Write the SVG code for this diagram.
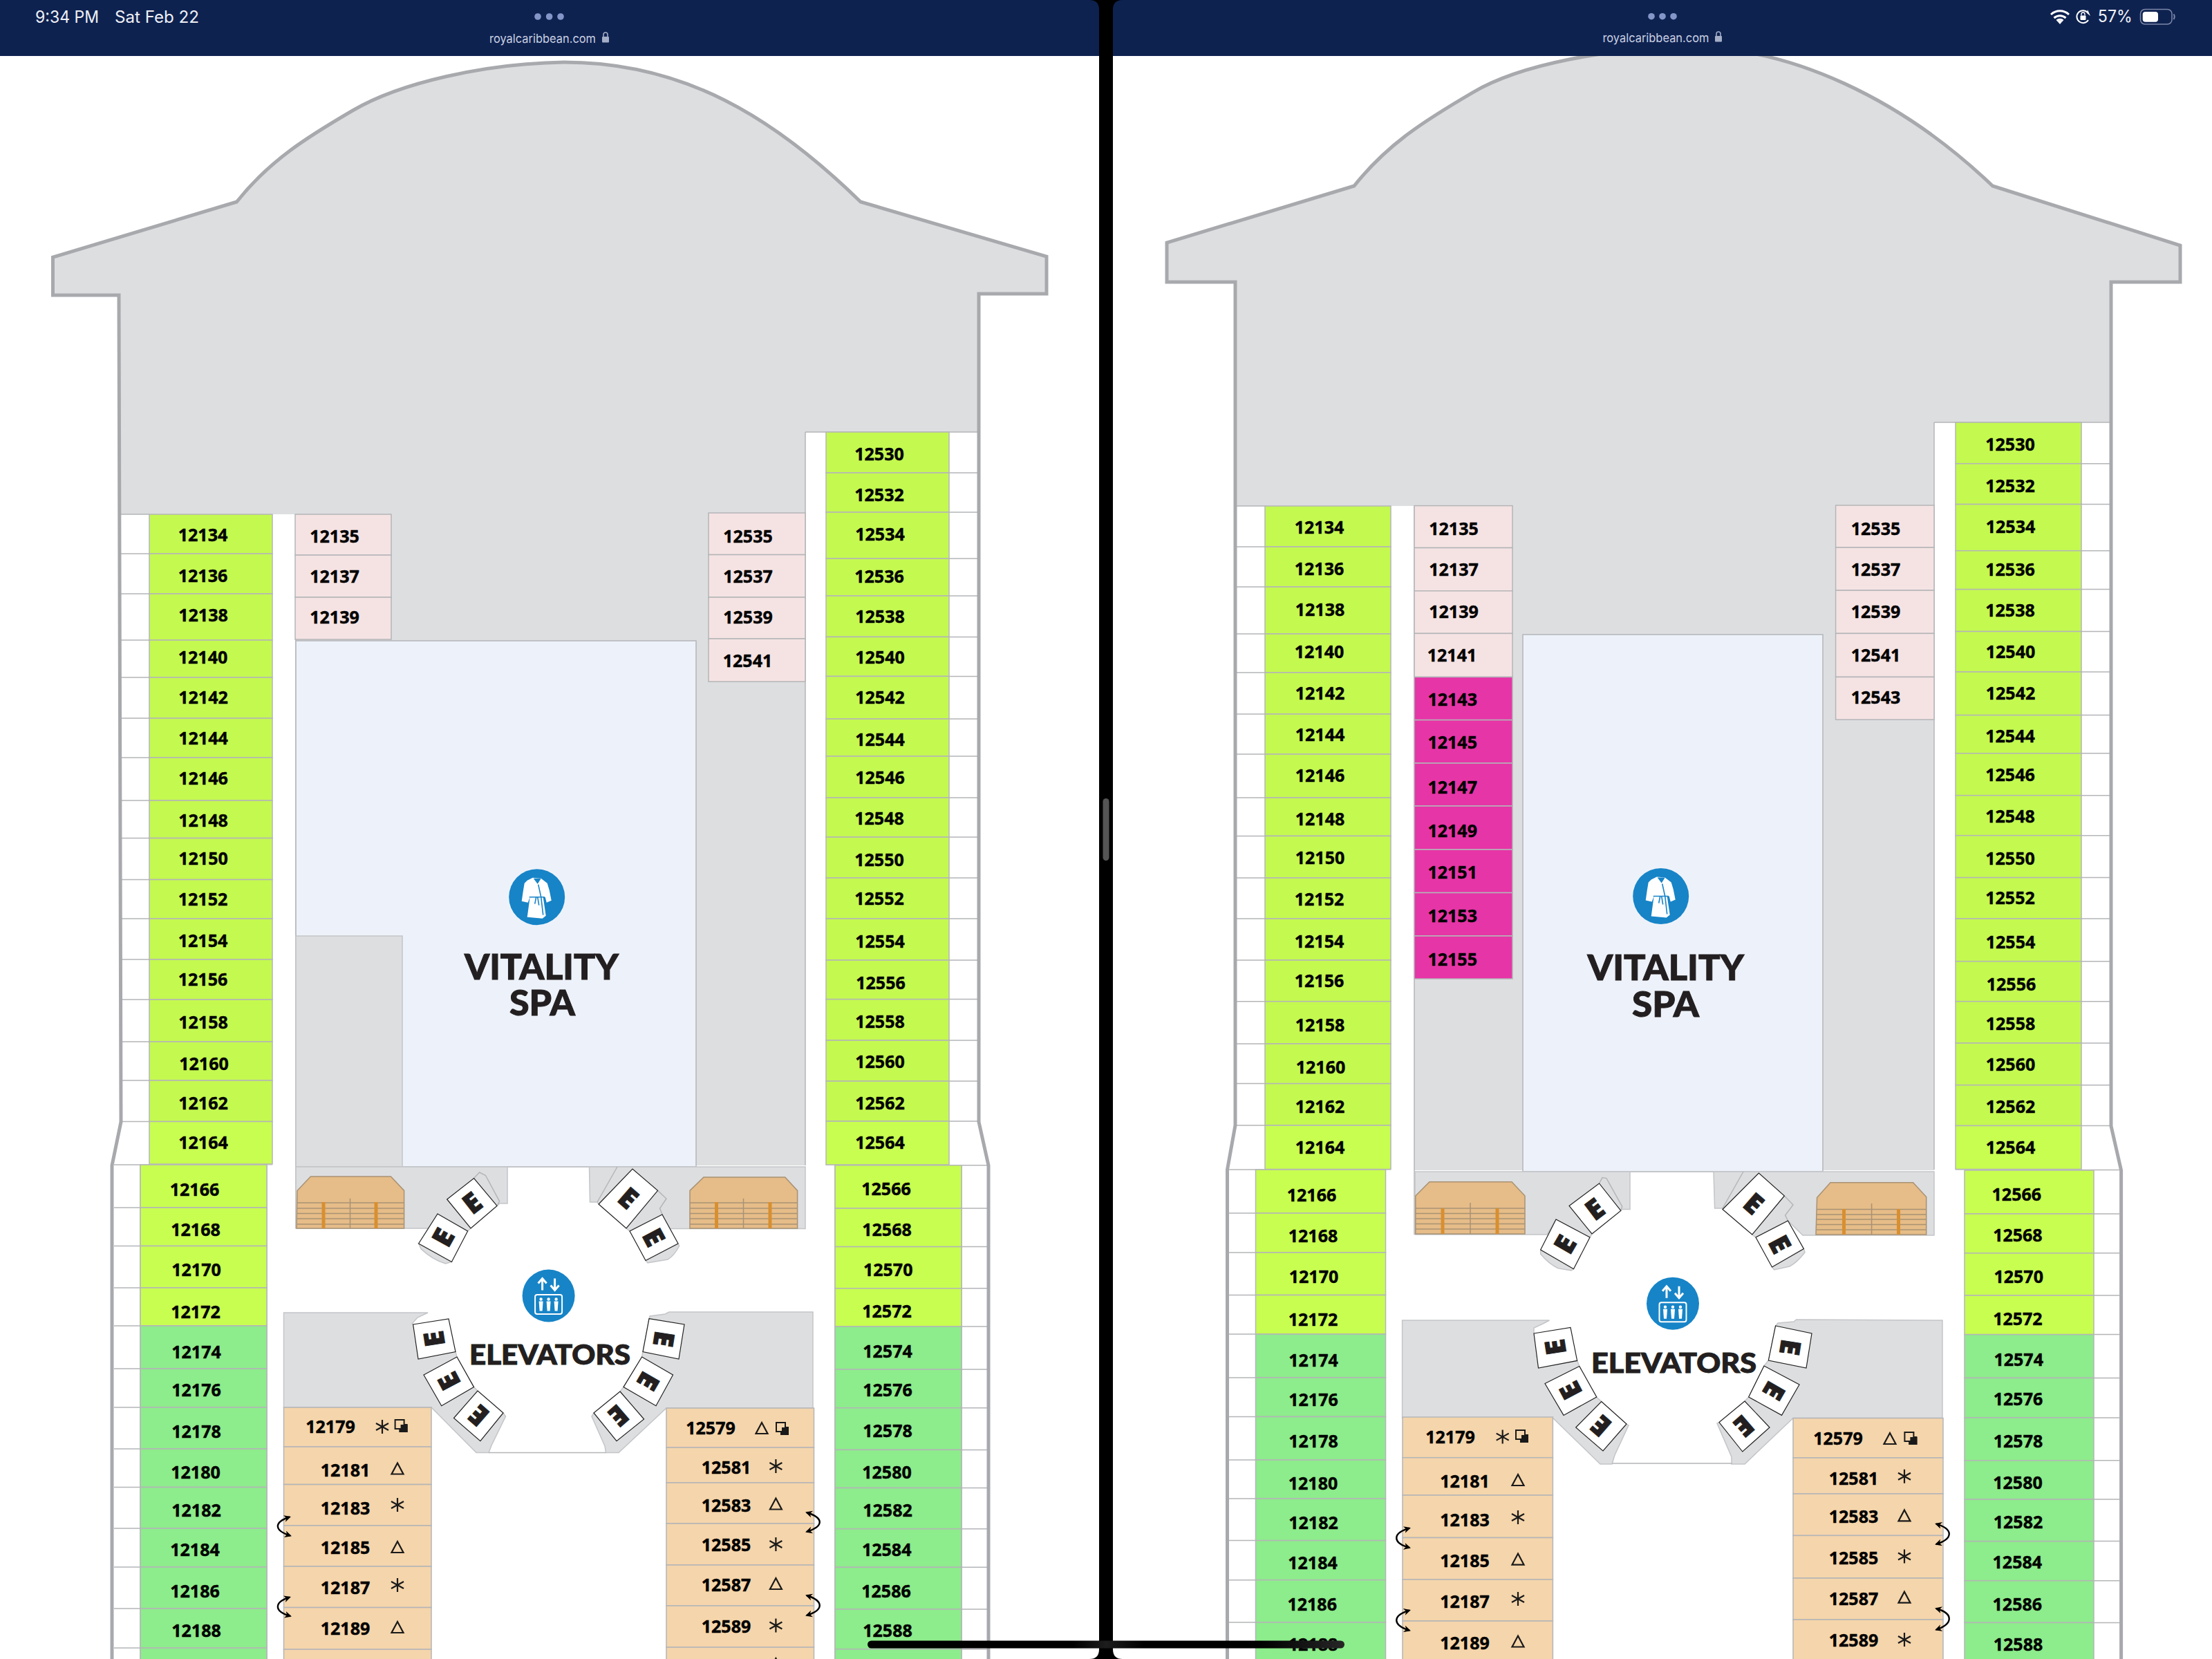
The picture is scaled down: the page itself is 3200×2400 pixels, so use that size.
<svg xmlns="http://www.w3.org/2000/svg" width="3200" height="2400" viewBox="0 0 3200 2400">
<style>
text{font-family:"Open Sans","Liberation Sans",sans-serif}
.n{font-size:25px;font-weight:700;fill:#000;text-anchor:middle;stroke:#000;stroke-width:.45}
.r{stroke:#b4b5b8;stroke-width:1.5}
.a{fill:#c4f950}.b{fill:#c8fe50}.g{fill:#8dec8b}.p{fill:#f5e3e3}.o{fill:#f5d5ab}.m{fill:#e635a6}
.hull{fill:#dddee0}
.hl{fill:none;stroke:#a8a9ad;stroke-width:5;stroke-linejoin:miter}
.ln{fill:none;stroke:#b4b5b8;stroke-width:1.5}
.blk{fill:#dddee0;stroke:#c4c5c8;stroke-width:1.5}
.spa{fill:#edf2fa;stroke:#b4b5b8;stroke-width:1.5}
.tile{fill:#fff;stroke:#222;stroke-width:1.2}
.e{font-size:40px;font-weight:800;fill:#231f20;text-anchor:middle;stroke:#231f20;stroke-width:1}
.st{fill:#e6bc88;stroke:#a89274;stroke-width:1.5}
.stl{fill:none;stroke:#a89274;stroke-width:1.5}
.bar{fill:#d98f30}
.big{font-family:Lato,"Open Sans",sans-serif;font-weight:900;fill:#231f20;stroke:#231f20;stroke-width:1}
.sym{fill:none;stroke:#1a1a1a;stroke-width:2.2;stroke-linejoin:miter}
.cn{fill:none;stroke:#000;stroke-width:2.4;marker-start:url(#ah);marker-end:url(#ah)}
.hd{fill:#0e2250}
.ht{font-family:Inter,Roboto,sans-serif;font-size:24px;fill:#eef0f6}
.ut{font-family:Inter,Roboto,sans-serif;font-size:17.5px;fill:#c9d0e2}
.dot{fill:#8496c8}
</style>
<defs>
<marker id="ah" markerUnits="userSpaceOnUse" markerWidth="12" markerHeight="12" refX="8" refY="5" orient="auto-start-reverse"><path d="M0,0 L10,5 L0,10 L3,5 z" fill="#000"/></marker>
<linearGradient id="hb" x1="1255" x2="1945" y1="0" y2="0" gradientUnits="userSpaceOnUse"><stop offset="0" stop-color="#000"/><stop offset=".43" stop-color="#000"/><stop offset=".5" stop-color="#1d1d1d"/><stop offset=".58" stop-color="#000"/><stop offset=".82" stop-color="#000"/><stop offset="1" stop-color="#262626"/></linearGradient>
<g id="ast"><path class="sym" d="M0,-10 V10 M-9,-5 L9,5 M-9,5 L9,-5"/></g>
<g id="tri"><path class="sym" d="M0,-8 L8.5,8 H-8.5 z"/></g>
<g id="dbl"><rect x="-9" y="-9" width="13" height="13" fill="none" stroke="#1a1a1a" stroke-width="2"/><path d="M-1,-2 H9 V9 H-3 V4 H-1 z" fill="#1a1a1a"/><path d="M4,-3 H9 V9 H-3 V4 H4 z" fill="#1a1a1a"/></g>
<g id="liftIcon"><circle r="38" fill="#1784c7"/><path d="M-9,-8 V-24 M-15,-18 L-9,-25 L-3,-18 M9,-25 V-9 M3,-15 L9,-8 L15,-15" fill="none" stroke="#fff" stroke-width="3"/><rect x="-19.5" y="-1.5" width="39" height="28" rx="3" fill="none" stroke="#fff" stroke-width="2"/><g fill="#fff"><circle cx="-11" cy="5" r="2.2"/><path d="M-14,8 H-8 L-9,22 H-13 z"/><circle cx="0" cy="5" r="2.2"/><path d="M-3,8 H3 L2,22 H-2 z"/><circle cx="11" cy="5" r="2.2"/><path d="M8,8 H14 L13,22 H9 z"/></g></g>
<g id="robeIcon"><circle r="40.5" fill="#1784c7"/><path d="M-6,-28 L-14,-24 L-18,-20 L-20,-8 L-22,6 L-13,8 L-10,0 L-14,29 L8,31 L13,27 L9,0 L12,0 L14,8 L21,5 L18,-10 L15,-20 L6,-27 z" fill="#fff"/><path d="M-5,-27 H6 L1,-19 z" fill="#1784c7"/><path d="M-11,0 H11 M-1,0 L-3,10 M1,0 L3,12 M2,-18 L6,0 L9,26" fill="none" stroke="#1784c7" stroke-width="1.6"/></g>
</defs>
<rect width="3200" height="2400" fill="#fff"/>

<g id="left-hull">
<path class="hull" d="M76.5,372 L342.5,292 C390,232 445,198 510,160 C578,120 700,92 816,90 C990,90 1120,170 1245,292 L1514,371 V425 H1416 V1623 L1430,1686 H162 L175,1623 L172,427 H76.5 Z"/>
<path fill="#fff" d="M175,744 H216 V1686 H162 L175,1623 Z M394,744 H428 V1690 H394 Z M1165,625 H1195 V1690 H1165 Z M1373,625 H1416 V1623 L1430,1686 H1373 Z"/>
<path class="ln" d="M175,744 H216 M1165,625 H1416 M1165,625 V1686 M428,744 V1777 M175,801 H216 M175,859 H216 M175,926 H216 M175,980 H216 M175,1039 H216 M175,1096 H216 M175,1158 H216 M175,1212.5 H216 M175,1272.5 H216 M175,1329 H216 M175,1388 H216 M175,1446 H216 M175,1507 H216 M175,1563 H216 M175,1622.5 H216 M165,1685 H216 M1373,684 H1416 M1373,741 H1416 M1373,808 H1416 M1373,862 H1416 M1373,921.4 H1416 M1373,978.4 H1416 M1373,1040 H1416 M1373,1094 H1416 M1373,1154 H1416 M1373,1211 H1416 M1373,1270 H1416 M1373,1329 H1416 M1373,1389 H1416 M1373,1445.6 H1416 M1373,1505 H1416 M1373,1564 H1416 M1373,1622 H1416 M1373,1685.7 H1428 M165,1747 H203 M165,1802.5 H203 M165,1863 H203 M165,1918 H203 M165,1980 H203 M165,2036 H203 M165,2096 H203 M165,2151.5 H203 M165,2211 H203 M165,2267 H203 M165,2327 H203 M165,2384 H203 M1391,1748 H1428 M1391,1803.6 H1428 M1391,1863.8 H1428 M1391,1919 H1428 M1391,1981 H1428 M1391,2036.7 H1428 M1391,2097.4 H1428 M1391,2152.5 H1428 M1391,2211.7 H1428 M1391,2267.3 H1428 M1391,2328 H1428 M1391,2385.7 H1428 M203,1685 V2400 M386,1685 V2400 M1208,1685 V2400 M1391,1685 V2400"/>
<path class="hl" d="M162,2400 V1686 L175,1623 L172,427 H76.5 V372 L342.5,292 C390,232 445,198 510,160 C578,120 700,92 816,90 C990,90 1120,170 1245,292 L1514,371 V425 H1416 V1623 L1430,1686 V2400"/>
</g>

<g id="right-hull">
<path class="hull" d="M1688,351 L1959,269 C2007.6,207.6 2064,172.7 2130.5,133.8 C2200,92.9 2325,70 2443.9,68 C2590,68 2750,142 2882.6,269 L3154,355 V408 H3054 V1629 L3068.6,1693 H1775.5 L1787,1628 V408 H1688 Z"/>
<path fill="#fff" d="M1787,732 H1830 V1693 H1775.5 L1787,1628 Z M2012,732 H2046 V1695 H2012 Z M2798,611 H2829 V1695 H2798 Z M3011,611 H3054 V1629 L3068.6,1693 H3011 Z"/>
<path class="ln" d="M1787,732 H1830 M2798,611 H3054 M2798,611 V1692 M2046,732 V1786 M1787,791 H1830 M1787,849 H1830 M1787,917 H1830 M1787,973 H1830 M1787,1033 H1830 M1787,1091 H1830 M1787,1154 H1830 M1787,1209.4 H1830 M1787,1270 H1830 M1787,1329 H1830 M1787,1389 H1830 M1787,1448.7 H1830 M1787,1510 H1830 M1787,1567.6 H1830 M1787,1628 H1830 M1778,1692 H1830 M3011,670.7 H3054 M3011,729.5 H3054 M3011,796.7 H3054 M3011,852.6 H3054 M3011,913.5 H3054 M3011,972 H3054 M3011,1034.6 H3054 M3011,1089.8 H3054 M3011,1150.7 H3054 M3011,1208.7 H3054 M3011,1269.6 H3054 M3011,1329 H3054 M3011,1390.7 H3054 M3011,1448.7 H3054 M3011,1509 H3054 M3011,1569.7 H3054 M3011,1628.5 H3054 M3011,1692.5 H3067 M1778,1755 H1816.5 M1778,1812 H1816.5 M1778,1873.5 H1816.5 M1778,1930 H1816.5 M1778,1993 H1816.5 M1778,2049.5 H1816.5 M1778,2112 H1816.5 M1778,2168 H1816.5 M1778,2228.6 H1816.5 M1778,2285.7 H1816.5 M1778,2347 H1816.5 M3029,1756 H3066 M3029,1812.8 H3066 M3029,1874 H3066 M3029,1930.6 H3066 M3029,1993.4 H3066 M3029,2051 H3066 M3029,2112.8 H3066 M3029,2169 H3066 M3029,2229.6 H3066 M3029,2286.7 H3066 M3029,2347.4 H3066"/>
<path class="hl" d="M1775.5,2400 V1692 L1787,1628 V408 H1688 V351 L1959,269 C2007.6,207.6 2064,172.7 2130.5,133.8 C2200,92.9 2325,70 2443.9,68 C2590,68 2750,142 2882.6,269 L3154,355 V408 H3054 V1629 L3068.6,1693 V2400"/>
</g>

<g id="left-vitality-spa">
<rect class="spa" x="428" y="927" width="579" height="761"/>
<rect class="blk" x="428" y="1354" width="154" height="334" stroke="#a8a9ad"/>
<use href="#robeIcon" x="776.7" y="1297.7"/>
<text class="big" x="672" y="1417" font-size="51" textLength="223" lengthAdjust="spacingAndGlyphs">VITALITY</text>
<text class="big" x="737" y="1469" font-size="51" textLength="95" lengthAdjust="spacingAndGlyphs">SPA</text>
</g>
<g id="right-vitality-spa">
<rect class="spa" x="2203" y="918" width="434" height="777"/>
<use href="#robeIcon" x="2402.7" y="1296.5"/>
<text class="big" x="2296.5" y="1418" font-size="51" textLength="226.5" lengthAdjust="spacingAndGlyphs">VITALITY</text>
<text class="big" x="2361" y="1471" font-size="51" textLength="97" lengthAdjust="spacingAndGlyphs">SPA</text>
</g>

<g id="left-lobby">
<path class="blk" d="M428,1688 H734 V1741 H723 L719,1744.4 L681,1777 L676.6,1781 L633,1756 L622,1777 H428 Z"/>
<path class="blk" d="M852.5,1688 H1165 V1777.5 H968 L958,1757 L911,1781 L906,1777 L866,1742 L864,1739 H853.5 Z"/>
<path class="blk" d="M410.5,1899 H619 L604,1906 L596,1915 L597.6,1916 L659,1955.6 L661,1963 L685.5,2006.6 L691,2012 L728,2044 L731.5,2049 L711,2091 L707,2101.5 H689 L624,2036 H410.5 Z"/>
<path class="blk" d="M1176,1898 H968 L962,1901 L940,1904 L939,1908 L930,1955.6 L928.6,1963 L902,2006.6 L897,2013 L859,2044 L856,2049 L875,2092 L876.5,2101.5 H895 L964,2037 H1176 Z"/>
<path class="blk" d="M605.6,1799 L609,1806.6 Q625,1822 644.5,1828 L653.4,1825.5 Z"/>
<path class="blk" d="M981,1799 L982.7,1802.5 Q975,1817 966,1822 L937,1827 L934,1823.5 Z"/>
<path class="ln" d="M685.6,1704.6 L693.6,1696 L702.5,1700.5 L722.6,1737.8 L719,1744.4 M893,1688 L864,1739 M951.5,1722.4 L964,1734 L954.6,1748 L958,1757 M707,2101.5 H876.5"/>
</g>
<g id="right-lobby">
<path class="blk" d="M2047,1695 H2358 V1749.5 H2346 L2303,1785 L2300,1790 L2251,1764 L2238,1786 H2047 Z"/>
<path class="blk" d="M2479,1695 H2798 V1787 H2608 L2586.5,1766 L2540,1790 L2534.8,1786 L2492,1749.5 L2492,1748 H2480.6 Z"/>
<path class="blk" d="M2028.6,1910 H2241.5 L2232,1915 L2219,1921 L2219,1929 L2281.6,1968 L2284.8,1976.5 L2309.7,2021 L2316.7,2027.6 L2353,2060 L2356,2062 L2336,2105 L2332,2118 H2315 L2246.6,2051.5 H2028.6 Z"/>
<path class="blk" d="M2810,1910 L2598.6,1909 L2595,1912 L2572,1914 L2568.6,1918 L2558.4,1968 L2552,1976 L2529.7,2021 L2524,2027 L2487,2057.6 L2484,2059 L2505,2107.6 L2505,2118 H2524 L2594,2051.5 H2810 Z"/>
<path class="blk" d="M2228.7,1808 L2228.7,1814 Q2240,1828 2254,1834.7 L2273,1838 L2276.5,1835.7 Z"/>
<path class="blk" d="M2609.4,1806.6 L2611,1811.7 Q2600,1826 2589,1832 L2566.7,1837 L2563.5,1833 Z"/>
<path class="ln" d="M2313.5,1712 L2318,1703.6 L2324,1704.6 L2346.7,1745.4 L2344.8,1751.5 M2522,1695 L2492,1748 M2581.4,1730 L2594,1743 L2582.6,1758 L2586.5,1766 M2332,2117 H2506"/>
</g>

<g id="left-stairs-1"><path class="st" d="M430,1722.4 L449.4,1702 H565.4 L584.6,1722.4 V1777 H429 Z"/><path class="stl" d="M430,1740 H584.6 M430,1748 H584.6 M430,1755.6 H584.6 M430,1763 H584.6 M430,1771 H584.6 M506.5,1733.7 V1777"/><rect class="bar" x="465.5" y="1739" width="5" height="38"/><rect class="bar" x="541.5" y="1739" width="5" height="38"/></g>
<g id="left-stairs-2"><path class="st" d="M998,1722.4 L1018,1703 H1135.7 L1153.6,1722.4 V1777 H998 Z"/><path class="stl" d="M998,1740 H1153.6 M998,1748 H1153.6 M998,1755.6 H1153.6 M998,1763 H1153.6 M998,1771 H1153.6 M1075.5,1733.7 V1777"/><rect class="bar" x="1034" y="1739" width="5" height="38"/><rect class="bar" x="1111.5" y="1739" width="5" height="38"/></g>
<g id="right-stairs-1"><path class="st" d="M2047.8,1730 L2068,1709.7 H2187 L2206,1730 V1785 H2047.8 Z"/><path class="stl" d="M2047.8,1748 H2206 M2047.8,1755.5 H2206 M2047.8,1763 H2206 M2047.8,1770.5 H2206 M2047.8,1778 H2206 M2127,1740 V1785"/><rect class="bar" x="2084.5" y="1748" width="5" height="37"/><rect class="bar" x="2163.5" y="1748" width="5" height="37"/></g>
<g id="right-stairs-2"><path class="st" d="M2628.6,1732.6 L2648,1710.7 H2767.6 L2786.7,1731.6 V1786 H2627 Z"/><path class="stl" d="M2628,1749.5 H2786.7 M2628,1757 H2786.7 M2628,1764 H2786.7 M2628,1771.5 H2786.7 M2628,1779 H2786.7 M2707.6,1741 V1786"/><rect class="bar" x="2665" y="1749" width="5" height="37"/><rect class="bar" x="2744" y="1749" width="5" height="37"/></g>

<g id="left-elevator-1"><polygon class="tile" points="646.7,1735 685.6,1704.6 719,1744.4 681,1777"/><text class="e" transform="translate(683,1740) rotate(-38)" y="14.5">E</text></g>
<g id="left-elevator-2"><polygon class="tile" points="605.6,1799 653.4,1825.5 676.6,1781 633,1756"/><text class="e" transform="translate(641,1790) rotate(-61)" y="14.5">E</text></g>
<g id="left-elevator-3"><polygon class="tile" points="597.6,1916 649,1908 659,1955.6 605,1966"/><text class="e" transform="translate(628,1937) rotate(-99)" y="14.5">E</text></g>
<g id="left-elevator-4"><polygon class="tile" points="613,1989 661,1963 685.5,2006.6 638.7,2033.7"/><text class="e" transform="translate(649.5,1998) rotate(-118)" y="14.5">E</text></g>
<g id="left-elevator-5"><polygon class="tile" points="656.5,2051.5 691,2012 728,2044 694.9,2084.7"/><text class="e" transform="translate(692.5,2048) rotate(-139)" y="14.5">E</text></g>
<g id="left-elevator-6"><polygon class="tile" points="866,1742 915,1691 951.5,1722.4 906,1777"/><text class="e" transform="translate(909,1733) rotate(41)" y="14.5">E</text></g>
<g id="left-elevator-7"><polygon class="tile" points="911,1781 958,1757 981,1799 934,1823.5"/><text class="e" transform="translate(946,1790) rotate(62)" y="14.5">E</text></g>
<g id="left-elevator-8"><polygon class="tile" points="939,1907.6 990,1916 982,1966 930,1955.6"/><text class="e" transform="translate(960.5,1937) rotate(99)" y="14.5">E</text></g>
<g id="left-elevator-9"><polygon class="tile" points="928.6,1963 973.5,1989 949,2033.7 902,2006.6"/><text class="e" transform="translate(938,1998) rotate(120)" y="14.5">E</text></g>
<g id="left-elevator-10"><polygon class="tile" points="897,2013 931.6,2053 892,2084.7 859,2044"/><text class="e" transform="translate(895,2048) rotate(139)" y="14.5">E</text></g>

<g id="right-elevator-1"><polygon class="tile" points="2270,1744.4 2313.5,1712 2344.8,1751.5 2303,1785"/><text class="e" transform="translate(2307,1749) rotate(-37)" y="14.5">E</text></g>
<g id="right-elevator-2"><polygon class="tile" points="2251,1764 2300,1790 2276.5,1835.7 2228.7,1808"/><text class="e" transform="translate(2264,1800) rotate(-60)" y="14.5">E</text></g>
<g id="right-elevator-3"><polygon class="tile" points="2219,1929 2272,1920.4 2281.6,1968.4 2225.5,1979"/><text class="e" transform="translate(2250,1949) rotate(-99)" y="14.5">E</text></g>
<g id="right-elevator-4"><polygon class="tile" points="2235,2001.5 2284.8,1976.5 2309.7,2021 2262,2047.4"/><text class="e" transform="translate(2272,2011.6) rotate(-118)" y="14.5">E</text></g>
<g id="right-elevator-5"><polygon class="tile" points="2279.7,2065 2316.7,2027.6 2353,2060 2319,2099"/><text class="e" transform="translate(2316,2063) rotate(-139)" y="14.5">E</text></g>
<g id="right-elevator-6"><polygon class="tile" points="2492,1749.5 2544.4,1697 2581.4,1730 2534.8,1786"/><text class="e" transform="translate(2537,1741) rotate(41)" y="14.5">E</text></g>
<g id="right-elevator-7"><polygon class="tile" points="2540,1790 2586.5,1766 2609.4,1806.6 2563.5,1833"/><text class="e" transform="translate(2575,1800) rotate(62)" y="14.5">E</text></g>
<g id="right-elevator-8"><polygon class="tile" points="2568.6,1918 2621,1929 2613,1979 2558.4,1968"/><text class="e" transform="translate(2590,1949) rotate(99)" y="14.5">E</text></g>
<g id="right-elevator-9"><polygon class="tile" points="2552,1976 2603,2003 2577.5,2047.4 2529.7,2021"/><text class="e" transform="translate(2566.6,2012) rotate(120)" y="14.5">E</text></g>
<g id="right-elevator-10"><polygon class="tile" points="2524,2027 2560,2065 2520.8,2100 2487,2057.6"/><text class="e" transform="translate(2523,2063) rotate(139)" y="14.5">E</text></g>

<g id="left-elevators"><use href="#liftIcon" x="793.6" y="1874.5"/><text class="big" x="679" y="1973.5" font-size="39" textLength="233" lengthAdjust="spacingAndGlyphs">ELEVATORS</text></g>
<g id="right-elevators"><use href="#liftIcon" x="2420" y="1885.7"/><text class="big" x="2302" y="1986" font-size="40" textLength="239" lengthAdjust="spacingAndGlyphs">ELEVATORS</text></g>

<g id="L12134"><rect class="r a" x="216" y="744" width="178" height="57"/><text class="n" x="293.5" y="783">12134</text></g>
<g id="L12136"><rect class="r a" x="216" y="801" width="178" height="58"/><text class="n" x="293.5" y="842">12136</text></g>
<g id="L12138"><rect class="r a" x="216" y="859" width="178" height="67"/><text class="n" x="294" y="899">12138</text></g>
<g id="L12140"><rect class="r a" x="216" y="926" width="178" height="54"/><text class="n" x="293.5" y="960">12140</text></g>
<g id="L12142"><rect class="r a" x="216" y="980" width="178" height="59"/><text class="n" x="294" y="1018">12142</text></g>
<g id="L12144"><rect class="r a" x="216" y="1039" width="178" height="57"/><text class="n" x="294" y="1076.5">12144</text></g>
<g id="L12146"><rect class="r a" x="216" y="1096" width="178" height="62"/><text class="n" x="294" y="1135">12146</text></g>
<g id="L12148"><rect class="r a" x="216" y="1158" width="178" height="54.5"/><text class="n" x="294" y="1196">12148</text></g>
<g id="L12150"><rect class="r a" x="216" y="1212.5" width="178" height="60"/><text class="n" x="294" y="1251">12150</text></g>
<g id="L12152"><rect class="r a" x="216" y="1272.5" width="178" height="56.5"/><text class="n" x="293.5" y="1310">12152</text></g>
<g id="L12154"><rect class="r a" x="216" y="1329" width="178" height="59"/><text class="n" x="293.5" y="1370">12154</text></g>
<g id="L12156"><rect class="r a" x="216" y="1388" width="178" height="58"/><text class="n" x="293.5" y="1426">12156</text></g>
<g id="L12158"><rect class="r a" x="216" y="1446" width="178" height="61"/><text class="n" x="294" y="1488">12158</text></g>
<g id="L12160"><rect class="r a" x="216" y="1507" width="178" height="56"/><text class="n" x="295" y="1548">12160</text></g>
<g id="L12162"><rect class="r a" x="216" y="1563" width="178" height="59.5"/><text class="n" x="294" y="1605">12162</text></g>
<g id="L12164"><rect class="r b" x="216" y="1622.5" width="178" height="61.5"/><text class="n" x="294" y="1662">12164</text></g>
<g id="L12166"><rect class="r b" x="203" y="1685" width="183" height="62"/><text class="n" x="281.5" y="1730">12166</text></g>
<g id="L12168"><rect class="r b" x="203" y="1747" width="183" height="55.5"/><text class="n" x="283" y="1788">12168</text></g>
<g id="L12170"><rect class="r b" x="203" y="1802.5" width="183" height="60.5"/><text class="n" x="284" y="1846">12170</text></g>
<g id="L12172"><rect class="r b" x="203" y="1863" width="183" height="55"/><text class="n" x="283" y="1907">12172</text></g>
<g id="L12174"><rect class="r g" x="203" y="1918" width="183" height="62"/><text class="n" x="284" y="1965">12174</text></g>
<g id="L12176"><rect class="r g" x="203" y="1980" width="183" height="56"/><text class="n" x="284" y="2020">12176</text></g>
<g id="L12178"><rect class="r g" x="203" y="2036" width="183" height="60"/><text class="n" x="284" y="2079.5">12178</text></g>
<g id="L12180"><rect class="r g" x="203" y="2096" width="183" height="55.5"/><text class="n" x="283" y="2139">12180</text></g>
<g id="L12182"><rect class="r g" x="203" y="2151.5" width="183" height="59.5"/><text class="n" x="284" y="2194">12182</text></g>
<g id="L12184"><rect class="r g" x="203" y="2211" width="183" height="56"/><text class="n" x="282" y="2251">12184</text></g>
<g id="L12186"><rect class="r g" x="203" y="2267" width="183" height="60"/><text class="n" x="282" y="2311">12186</text></g>
<g id="L12188"><rect class="r g" x="203" y="2327" width="183" height="57"/><text class="n" x="284" y="2368">12188</text></g>
<g id="L-col-end"><rect class="r g" x="203" y="2384" width="183" height="20"/></g>

<g id="L12135"><rect class="r p" x="427" y="744" width="139" height="59"/><text class="n" x="484" y="785">12135</text></g>
<g id="L12137"><rect class="r p" x="427" y="803" width="139" height="61"/><text class="n" x="484" y="843">12137</text></g>
<g id="L12139"><rect class="r p" x="427" y="864" width="139" height="61"/><text class="n" x="484" y="902">12139</text></g>

<g id="L12535"><rect class="r p" x="1025" y="742" width="140" height="60.5"/><text class="n" x="1082" y="784.5">12535</text></g>
<g id="L12537"><rect class="r p" x="1025" y="802.5" width="140" height="61.5"/><text class="n" x="1082" y="843">12537</text></g>
<g id="L12539"><rect class="r p" x="1025" y="864" width="140" height="60"/><text class="n" x="1082" y="902">12539</text></g>
<g id="L12541"><rect class="r p" x="1025" y="924" width="140" height="62"/><text class="n" x="1081.5" y="965">12541</text></g>

<g id="L12530"><rect class="r a" x="1195" y="625" width="178" height="59"/><text class="n" x="1272" y="666">12530</text></g>
<g id="L12532"><rect class="r a" x="1195" y="684" width="178" height="57"/><text class="n" x="1272" y="725">12532</text></g>
<g id="L12534"><rect class="r a" x="1195" y="741" width="178" height="67"/><text class="n" x="1273" y="782">12534</text></g>
<g id="L12536"><rect class="r a" x="1195" y="808" width="178" height="54"/><text class="n" x="1272" y="843">12536</text></g>
<g id="L12538"><rect class="r a" x="1195" y="862" width="178" height="59.4"/><text class="n" x="1273" y="901">12538</text></g>
<g id="L12540"><rect class="r a" x="1195" y="921.4" width="178" height="57"/><text class="n" x="1273" y="960">12540</text></g>
<g id="L12542"><rect class="r a" x="1195" y="978.4" width="178" height="61.6"/><text class="n" x="1273" y="1018">12542</text></g>
<g id="L12544"><rect class="r a" x="1195" y="1040" width="178" height="54"/><text class="n" x="1273" y="1079">12544</text></g>
<g id="L12546"><rect class="r a" x="1195" y="1094" width="178" height="60"/><text class="n" x="1273" y="1134">12546</text></g>
<g id="L12548"><rect class="r a" x="1195" y="1154" width="178" height="57"/><text class="n" x="1272" y="1193">12548</text></g>
<g id="L12550"><rect class="r a" x="1195" y="1211" width="178" height="59"/><text class="n" x="1272" y="1253">12550</text></g>
<g id="L12552"><rect class="r a" x="1195" y="1270" width="178" height="59"/><text class="n" x="1272" y="1309">12552</text></g>
<g id="L12554"><rect class="r a" x="1195" y="1329" width="178" height="60"/><text class="n" x="1273" y="1371">12554</text></g>
<g id="L12556"><rect class="r a" x="1195" y="1389" width="178" height="56.6"/><text class="n" x="1274" y="1431">12556</text></g>
<g id="L12558"><rect class="r a" x="1195" y="1445.6" width="178" height="59.4"/><text class="n" x="1273" y="1487">12558</text></g>
<g id="L12560"><rect class="r a" x="1195" y="1505" width="178" height="59"/><text class="n" x="1273" y="1545">12560</text></g>
<g id="L12562"><rect class="r a" x="1195" y="1564" width="178" height="58"/><text class="n" x="1273" y="1605">12562</text></g>
<g id="L12564"><rect class="r b" x="1195" y="1622" width="178" height="63"/><text class="n" x="1273" y="1662">12564</text></g>
<g id="L12566"><rect class="r b" x="1208" y="1685.7" width="183" height="62.3"/><text class="n" x="1282" y="1729.4">12566</text></g>
<g id="L12568"><rect class="r b" x="1208" y="1748" width="183" height="55.6"/><text class="n" x="1283" y="1787.6">12568</text></g>
<g id="L12570"><rect class="r b" x="1208" y="1803.6" width="183" height="60.2"/><text class="n" x="1284.7" y="1846">12570</text></g>
<g id="L12572"><rect class="r b" x="1208" y="1863.8" width="183" height="55.2"/><text class="n" x="1283" y="1906.4">12572</text></g>
<g id="L12574"><rect class="r g" x="1208" y="1919" width="183" height="62"/><text class="n" x="1284" y="1964">12574</text></g>
<g id="L12576"><rect class="r g" x="1208" y="1981" width="183" height="55.7"/><text class="n" x="1284" y="2020">12576</text></g>
<g id="L12578"><rect class="r g" x="1208" y="2036.7" width="183" height="60.7"/><text class="n" x="1284" y="2079.4">12578</text></g>
<g id="L12580"><rect class="r g" x="1208" y="2097.4" width="183" height="55.1"/><text class="n" x="1283" y="2138.6">12580</text></g>
<g id="L12582"><rect class="r g" x="1208" y="2152.5" width="183" height="59.2"/><text class="n" x="1284" y="2194">12582</text></g>
<g id="L12584"><rect class="r g" x="1208" y="2211.7" width="183" height="55.6"/><text class="n" x="1282.7" y="2251.3">12584</text></g>
<g id="L12586"><rect class="r g" x="1208" y="2267.3" width="183" height="60.7"/><text class="n" x="1282" y="2311">12586</text></g>
<g id="L12588"><rect class="r g" x="1208" y="2328" width="183" height="57.7"/><text class="n" x="1284" y="2367.7">12588</text></g>
<g id="L-col-end-2"><rect class="r g" x="1208" y="2385.7" width="183" height="20"/></g>

<g id="L12179"><rect class="r o" x="410.5" y="2036" width="213.5" height="57"/><text class="n" x="478" y="2073">12179</text><use href="#ast" x="553" y="2064"/><use href="#dbl" x="580.6" y="2063"/></g>
<g id="L12181"><rect class="r o" x="410.5" y="2093" width="213.5" height="54.5"/><text class="n" x="499.5" y="2136">12181</text><use href="#tri" x="575" y="2124.5"/></g>
<g id="L12183"><rect class="r o" x="410.5" y="2147.5" width="213.5" height="59.5"/><text class="n" x="499.5" y="2190.6">12183</text><use href="#ast" x="575" y="2177"/></g>
<g id="L12185"><rect class="r o" x="410.5" y="2207" width="213.5" height="59"/><text class="n" x="499.5" y="2248">12185</text><use href="#tri" x="575" y="2238"/></g>
<g id="L12187"><rect class="r o" x="410.5" y="2266" width="213.5" height="59.5"/><text class="n" x="499.5" y="2306">12187</text><use href="#ast" x="575" y="2293"/></g>
<g id="L12189"><rect class="r o" x="410.5" y="2325.5" width="213.5" height="60.5"/><text class="n" x="499.5" y="2365">12189</text><use href="#tri" x="575" y="2354"/></g>
<g id="L-orange-end"><rect class="r o" x="410.5" y="2386" width="213.5" height="20"/></g>

<g id="L12579"><rect class="r o" x="964" y="2037" width="213.5" height="57"/><text class="n" x="1028" y="2075">12579</text><use href="#tri" x="1102" y="2066"/><use href="#dbl" x="1132" y="2067"/></g>
<g id="L12581"><rect class="r o" x="964" y="2094" width="213.5" height="51"/><text class="n" x="1050.5" y="2132">12581</text><use href="#ast" x="1122.4" y="2121"/></g>
<g id="L12583"><rect class="r o" x="964" y="2145" width="213.5" height="59"/><text class="n" x="1050.5" y="2186.5">12583</text><use href="#tri" x="1122.4" y="2175.5"/></g>
<g id="L12585"><rect class="r o" x="964" y="2204" width="213.5" height="60"/><text class="n" x="1050.5" y="2244">12585</text><use href="#ast" x="1122.4" y="2234"/></g>
<g id="L12587"><rect class="r o" x="964" y="2264" width="213.5" height="59"/><text class="n" x="1050.5" y="2302">12587</text><use href="#tri" x="1122.4" y="2291"/></g>
<g id="L12589"><rect class="r o" x="964" y="2323" width="213.5" height="60"/><text class="n" x="1050.5" y="2361.5">12589</text><use href="#ast" x="1122.4" y="2351.5"/></g>
<g id="L-orange-end-2"><rect class="r o" x="964" y="2383" width="213.5" height="20"/><use href="#tri" x="1122.4" y="2407"/></g>

<g id="R12134"><rect class="r a" x="1830" y="732" width="182" height="59"/><text class="n" x="1908.5" y="772.4">12134</text></g>
<g id="R12136"><rect class="r a" x="1830" y="791" width="182" height="58"/><text class="n" x="1908.5" y="832">12136</text></g>
<g id="R12138"><rect class="r a" x="1830" y="849" width="182" height="68"/><text class="n" x="1909.5" y="890.7">12138</text></g>
<g id="R12140"><rect class="r a" x="1830" y="917" width="182" height="56"/><text class="n" x="1908.5" y="952">12140</text></g>
<g id="R12142"><rect class="r a" x="1830" y="973" width="182" height="60"/><text class="n" x="1909.5" y="1012">12142</text></g>
<g id="R12144"><rect class="r a" x="1830" y="1033" width="182" height="58"/><text class="n" x="1909.5" y="1072">12144</text></g>
<g id="R12146"><rect class="r a" x="1830" y="1091" width="182" height="63"/><text class="n" x="1909.5" y="1131">12146</text></g>
<g id="R12148"><rect class="r a" x="1830" y="1154" width="182" height="55.4"/><text class="n" x="1909.5" y="1193.6">12148</text></g>
<g id="R12150"><rect class="r a" x="1830" y="1209.4" width="182" height="60.6"/><text class="n" x="1909.5" y="1249.6">12150</text></g>
<g id="R12152"><rect class="r a" x="1830" y="1270" width="182" height="59"/><text class="n" x="1908.5" y="1309.8">12152</text></g>
<g id="R12154"><rect class="r a" x="1830" y="1329" width="182" height="60"/><text class="n" x="1908.5" y="1370.7">12154</text></g>
<g id="R12156"><rect class="r a" x="1830" y="1389" width="182" height="59.7"/><text class="n" x="1908.5" y="1428">12156</text></g>
<g id="R12158"><rect class="r a" x="1830" y="1448.7" width="182" height="61.3"/><text class="n" x="1909.5" y="1491.7">12158</text></g>
<g id="R12160"><rect class="r a" x="1830" y="1510" width="182" height="57.6"/><text class="n" x="1910.5" y="1552.6">12160</text></g>
<g id="R12162"><rect class="r a" x="1830" y="1567.6" width="182" height="60.4"/><text class="n" x="1909.5" y="1610">12162</text></g>
<g id="R12164"><rect class="r b" x="1830" y="1628" width="182" height="63.5"/><text class="n" x="1909.5" y="1668.6">12164</text></g>
<g id="R12166"><rect class="r b" x="1816.5" y="1692" width="188" height="63"/><text class="n" x="1897.5" y="1737.6">12166</text></g>
<g id="R12168"><rect class="r b" x="1816.5" y="1755" width="188" height="57"/><text class="n" x="1899.5" y="1796.8">12168</text></g>
<g id="R12170"><rect class="r b" x="1816.5" y="1812" width="188" height="61.5"/><text class="n" x="1900.5" y="1856.4">12170</text></g>
<g id="R12172"><rect class="r b" x="1816.5" y="1873.5" width="188" height="56.5"/><text class="n" x="1899.5" y="1917.7">12172</text></g>
<g id="R12174"><rect class="r g" x="1816.5" y="1930" width="188" height="63"/><text class="n" x="1900" y="1977">12174</text></g>
<g id="R12176"><rect class="r g" x="1816.5" y="1993" width="188" height="56.5"/><text class="n" x="1900" y="2033.5">12176</text></g>
<g id="R12178"><rect class="r g" x="1816.5" y="2049.5" width="188" height="62.5"/><text class="n" x="1900" y="2094">12178</text></g>
<g id="R12180"><rect class="r g" x="1816.5" y="2112" width="188" height="56"/><text class="n" x="1899.5" y="2155.4">12180</text></g>
<g id="R12182"><rect class="r g" x="1816.5" y="2168" width="188" height="60.6"/><text class="n" x="1900" y="2211.5">12182</text></g>
<g id="R12184"><rect class="r g" x="1816.5" y="2228.6" width="188" height="57.1"/><text class="n" x="1899" y="2269.7">12184</text></g>
<g id="R12186"><rect class="r g" x="1816.5" y="2285.7" width="188" height="61.3"/><text class="n" x="1898.2" y="2330.4">12186</text></g>
<g id="R12188"><rect class="r g" x="1816.5" y="2347" width="188" height="57"/><text class="n" x="1899.5" y="2388">12188</text></g>

<g id="R12135"><rect class="r p" x="2046" y="731.6" width="142" height="60.9"/><text class="n" x="2103" y="774">12135</text></g>
<g id="R12137"><rect class="r p" x="2046" y="792.5" width="142" height="62.3"/><text class="n" x="2103" y="833">12137</text></g>
<g id="R12139"><rect class="r p" x="2046" y="854.8" width="142" height="61.6"/><text class="n" x="2103" y="893.5">12139</text></g>
<g id="R12141"><rect class="r p" x="2046" y="916.4" width="142" height="63"/><text class="n" x="2100.5" y="957">12141</text></g>
<g id="R12143"><rect class="r m" x="2046" y="979.4" width="142" height="62.2"/><text class="n" x="2101.2" y="1021">12143</text></g>
<g id="R12145"><rect class="r m" x="2046" y="1041.6" width="142" height="62.4"/><text class="n" x="2101.2" y="1083">12145</text></g>
<g id="R12147"><rect class="r m" x="2046" y="1104" width="142" height="62"/><text class="n" x="2101.2" y="1147.6">12147</text></g>
<g id="R12149"><rect class="r m" x="2046" y="1166" width="142" height="63"/><text class="n" x="2101.2" y="1210.6">12149</text></g>
<g id="R12151"><rect class="r m" x="2046" y="1229" width="142" height="62.5"/><text class="n" x="2101.2" y="1271">12151</text></g>
<g id="R12153"><rect class="r m" x="2046" y="1291.5" width="142" height="62.5"/><text class="n" x="2101.2" y="1334">12153</text></g>
<g id="R12155"><rect class="r m" x="2046" y="1354" width="142" height="62"/><text class="n" x="2101.2" y="1397">12155</text></g>

<g id="R12535"><rect class="r p" x="2655.6" y="731" width="142.4" height="61"/><text class="n" x="2713.5" y="774">12535</text></g>
<g id="R12537"><rect class="r p" x="2655.6" y="792" width="142.4" height="62"/><text class="n" x="2713.5" y="833">12537</text></g>
<g id="R12539"><rect class="r p" x="2655.6" y="854" width="142.4" height="62.4"/><text class="n" x="2713.5" y="893.5">12539</text></g>
<g id="R12541"><rect class="r p" x="2655.6" y="916.4" width="142.4" height="63"/><text class="n" x="2713.5" y="957">12541</text></g>
<g id="R12543"><rect class="r p" x="2655.6" y="979.4" width="142.4" height="61.6"/><text class="n" x="2713.5" y="1018">12543</text></g>

<g id="R12530"><rect class="r a" x="2829" y="611" width="182" height="59.7"/><text class="n" x="2908" y="652">12530</text></g>
<g id="R12532"><rect class="r a" x="2829" y="670.7" width="182" height="58.8"/><text class="n" x="2908" y="712">12532</text></g>
<g id="R12534"><rect class="r a" x="2829" y="729.5" width="182" height="67.2"/><text class="n" x="2908.5" y="771">12534</text></g>
<g id="R12536"><rect class="r a" x="2829" y="796.7" width="182" height="55.9"/><text class="n" x="2908" y="832.6">12536</text></g>
<g id="R12538"><rect class="r a" x="2829" y="852.6" width="182" height="60.9"/><text class="n" x="2908" y="892">12538</text></g>
<g id="R12540"><rect class="r a" x="2829" y="913.5" width="182" height="58.5"/><text class="n" x="2908.5" y="952">12540</text></g>
<g id="R12542"><rect class="r a" x="2829" y="972" width="182" height="62.6"/><text class="n" x="2908.5" y="1011.7">12542</text></g>
<g id="R12544"><rect class="r a" x="2829" y="1034.6" width="182" height="55.2"/><text class="n" x="2908" y="1074">12544</text></g>
<g id="R12546"><rect class="r a" x="2829" y="1089.8" width="182" height="60.9"/><text class="n" x="2908" y="1130">12546</text></g>
<g id="R12548"><rect class="r a" x="2829" y="1150.7" width="182" height="58"/><text class="n" x="2908" y="1190">12548</text></g>
<g id="R12550"><rect class="r a" x="2829" y="1208.7" width="182" height="60.9"/><text class="n" x="2908" y="1251">12550</text></g>
<g id="R12552"><rect class="r a" x="2829" y="1269.6" width="182" height="59.4"/><text class="n" x="2908" y="1308">12552</text></g>
<g id="R12554"><rect class="r a" x="2829" y="1329" width="182" height="61.7"/><text class="n" x="2908.5" y="1372">12554</text></g>
<g id="R12556"><rect class="r a" x="2829" y="1390.7" width="182" height="58"/><text class="n" x="2909.5" y="1433">12556</text></g>
<g id="R12558"><rect class="r a" x="2829" y="1448.7" width="182" height="60.3"/><text class="n" x="2908.5" y="1490">12558</text></g>
<g id="R12560"><rect class="r a" x="2829" y="1509" width="182" height="60.7"/><text class="n" x="2908.5" y="1549">12560</text></g>
<g id="R12562"><rect class="r a" x="2829" y="1569.7" width="182" height="58.8"/><text class="n" x="2908.5" y="1610">12562</text></g>
<g id="R12564"><rect class="r b" x="2829" y="1628.5" width="182" height="63"/><text class="n" x="2908.5" y="1669">12564</text></g>
<g id="R12566"><rect class="r b" x="2842" y="1693" width="187" height="63"/><text class="n" x="2917.3" y="1737">12566</text></g>
<g id="R12568"><rect class="r b" x="2842" y="1756" width="187" height="56.8"/><text class="n" x="2918.9" y="1796">12568</text></g>
<g id="R12570"><rect class="r b" x="2842" y="1812.8" width="187" height="61.2"/><text class="n" x="2920.2" y="1856">12570</text></g>
<g id="R12572"><rect class="r b" x="2842" y="1874" width="187" height="56.6"/><text class="n" x="2918.9" y="1917">12572</text></g>
<g id="R12574"><rect class="r g" x="2842" y="1930.6" width="187" height="62.8"/><text class="n" x="2920.2" y="1976">12574</text></g>
<g id="R12576"><rect class="r g" x="2842" y="1993.4" width="187" height="57.6"/><text class="n" x="2919.5" y="2033">12576</text></g>
<g id="R12578"><rect class="r g" x="2842" y="2051" width="187" height="61.8"/><text class="n" x="2919.5" y="2093.7">12578</text></g>
<g id="R12580"><rect class="r g" x="2842" y="2112.8" width="187" height="56.2"/><text class="n" x="2919" y="2154.4">12580</text></g>
<g id="R12582"><rect class="r g" x="2842" y="2169" width="187" height="60.6"/><text class="n" x="2919.5" y="2211">12582</text></g>
<g id="R12584"><rect class="r g" x="2842" y="2229.6" width="187" height="57.1"/><text class="n" x="2918.3" y="2269">12584</text></g>
<g id="R12586"><rect class="r g" x="2842" y="2286.7" width="187" height="60.7"/><text class="n" x="2918.3" y="2330">12586</text></g>
<g id="R12588"><rect class="r g" x="2842" y="2347.4" width="187" height="56.6"/><text class="n" x="2919.5" y="2387.6">12588</text></g>

<g id="R12179"><rect class="r o" x="2029" y="2050" width="217.4" height="58.7"/><text class="n" x="2098" y="2087.6">12179</text><use href="#ast" x="2173.7" y="2078.6"/><use href="#dbl" x="2202" y="2078"/></g>
<g id="R12181"><rect class="r o" x="2029" y="2108.7" width="217.4" height="54.3"/><text class="n" x="2119" y="2152">12181</text><use href="#tri" x="2196" y="2141"/></g>
<g id="R12183"><rect class="r o" x="2029" y="2163" width="217.4" height="61.5"/><text class="n" x="2119" y="2207.5">12183</text><use href="#ast" x="2196" y="2195"/></g>
<g id="R12185"><rect class="r o" x="2029" y="2224.5" width="217.4" height="60.5"/><text class="n" x="2119" y="2266.6">12185</text><use href="#tri" x="2196" y="2255.6"/></g>
<g id="R12187"><rect class="r o" x="2029" y="2285" width="217.4" height="60"/><text class="n" x="2119" y="2326">12187</text><use href="#ast" x="2196" y="2313"/></g>
<g id="R12189"><rect class="r o" x="2029" y="2345" width="217.4" height="59"/><text class="n" x="2119" y="2386">12189</text><use href="#tri" x="2196" y="2374.5"/></g>

<g id="R12579"><rect class="r o" x="2594" y="2051.5" width="217" height="57.5"/><text class="n" x="2659" y="2090">12579</text><use href="#tri" x="2734" y="2081"/><use href="#dbl" x="2764.4" y="2081"/></g>
<g id="R12581"><rect class="r o" x="2594" y="2109" width="217" height="52"/><text class="n" x="2681.5" y="2148">12581</text><use href="#ast" x="2755" y="2135.7"/></g>
<g id="R12583"><rect class="r o" x="2594" y="2161" width="217" height="60.4"/><text class="n" x="2681.5" y="2203.4">12583</text><use href="#tri" x="2755" y="2192.4"/></g>
<g id="R12585"><rect class="r o" x="2594" y="2221.4" width="217" height="61.6"/><text class="n" x="2681.5" y="2262.6">12585</text><use href="#ast" x="2755" y="2251.5"/></g>
<g id="R12587"><rect class="r o" x="2594" y="2283" width="217" height="60"/><text class="n" x="2681.5" y="2321.7">12587</text><use href="#tri" x="2755" y="2310.7"/></g>
<g id="R12589"><rect class="r o" x="2594" y="2343" width="217" height="61"/><text class="n" x="2681.5" y="2382">12589</text><use href="#ast" x="2755" y="2372"/></g>

<g id="connectors">
<path class="cn" d="M419,2194.5 C396,2202 396,2214 420,2221.6"/>
<path class="cn" d="M419,2310.7 C396,2318 396,2331 420,2338"/>
<path class="cn" d="M1167,2188 C1192,2196 1192,2208 1167,2216"/>
<path class="cn" d="M1167,2308 C1192,2316 1192,2329 1167,2337"/>
<path class="cn" d="M2039,2210.7 C2014,2218 2014,2232 2039,2239"/>
<path class="cn" d="M2039,2329.6 C2014,2337 2014,2351 2039,2358.7"/>
<path class="cn" d="M2801,2204.6 C2826,2212 2826,2226 2801,2234"/>
<path class="cn" d="M2801,2327 C2826,2334 2826,2349 2801,2357.6"/>
</g>

<g id="device-frame">
<rect class="hd" x="0" y="0" width="1590" height="81"/>
<rect class="hd" x="1610" y="0" width="1590" height="81"/>
<path fill="#000" d="M1576,0 Q1590,0 1590,14 V2386 Q1590,2400 1576,2400 H1624 Q1610,2400 1610,2386 V14 Q1610,0 1624,0 Z"/>
<rect x="1595.5" y="1155" width="9" height="90" rx="4.5" fill="#555"/>
<rect x="1255" y="2373.5" width="690" height="11" rx="5.5" fill="url(#hb)"/>
</g>

<g id="status-left">
<text class="ht" x="51" y="32.5" textLength="92" lengthAdjust="spacingAndGlyphs">9:34 PM</text>
<text class="ht" x="166" y="32.5" textLength="122" lengthAdjust="spacingAndGlyphs">Sat Feb 22</text>
<circle class="dot" cx="778" cy="24" r="4.8"/><circle class="dot" cx="794.6" cy="24" r="4.8"/><circle class="dot" cx="811" cy="24" r="4.8"/>
<text class="ut" x="708" y="62" textLength="154" lengthAdjust="spacingAndGlyphs">royalcaribbean.com</text>
<path d="M873,53 V50 A3,3 0 0 1 879,50 V53" fill="none" stroke="#a4aec6" stroke-width="1.5"/><rect x="871" y="53" width="10" height="8.5" rx="1" fill="#a4aec6"/>
</g>
<g id="status-right">
<circle class="dot" cx="2389" cy="23.7" r="4.8"/><circle class="dot" cx="2405" cy="23.7" r="4.8"/><circle class="dot" cx="2421" cy="23.7" r="4.8"/>
<text class="ut" x="2318.4" y="61" textLength="154" lengthAdjust="spacingAndGlyphs">royalcaribbean.com</text>
<path d="M2483,52 V49 A3,3 0 0 1 2489,49 V52" fill="none" stroke="#a4aec6" stroke-width="1.5"/><rect x="2481" y="52" width="10" height="8.5" rx="1" fill="#a4aec6"/>
<path d="M2967,21 A19,19 0 0 1 2993,21 M2971.5,26 A13,13 0 0 1 2988.5,26 M2975.5,30 A7,7 0 0 1 2984.5,30" fill="none" stroke="#fff" stroke-width="3"/><path d="M2976.5,31 L2980,35 L2983.5,31 Q2980,28.5 2976.5,31 z" fill="#fff"/>
<path d="M3020,18 A9,9 0 1 0 3021,29" fill="none" stroke="#fff" stroke-width="2"/><path d="M3019,19 L3024,23 L3020,14 z" fill="#fff"/><rect x="3009.5" y="22.5" width="8" height="6.5" rx="1" fill="#fff"/><path d="M3011,22.5 V20.5 A2.5,2.5 0 0 1 3016,20.5 V22.5" fill="none" stroke="#fff" stroke-width="1.3"/>
<text class="ht" x="3034.8" y="32" textLength="50" lengthAdjust="spacingAndGlyphs">57%</text>
<rect x="3096.5" y="13.5" width="45.5" height="21.5" rx="6.5" fill="none" stroke="#7c88a8" stroke-width="1.5"/>
<rect x="3099.7" y="17" width="22.3" height="14.7" rx="4" fill="#fff"/>
<path d="M3144.5,20.5 Q3147,24 3144.5,28" fill="none" stroke="#7c88a8" stroke-width="2"/>
</g>
</svg>
